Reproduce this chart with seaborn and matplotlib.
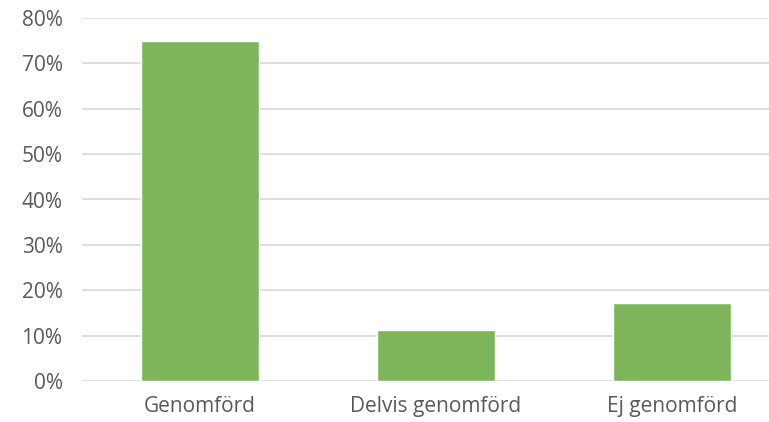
import matplotlib
matplotlib.use("Agg")
import matplotlib.pyplot as plt
import seaborn as sns
import pandas as pd
from matplotlib.ticker import PercentFormatter

categories = ["Genomförd", "Delvis genomförd", "Ej genomförd"]
values = [75, 11.3, 17.1]
yticks = [0, 10, 20, 30, 40, 50, 60, 70, 80]

df = pd.DataFrame({"status": categories, "andel": values})

sns.set_theme(style="white")
plt.rcParams["font.family"] = ["Open Sans", "DejaVu Sans"]

fig = plt.figure(figsize=(7.69, 4.22), dpi=100)
ax = fig.add_axes([82 / 769, 1 - 381 / 422, 708 / 769, 363 / 422])

sns.barplot(data=df, x="status", y="andel", color="#7DB65A", width=0.5,
            saturation=1, ax=ax, zorder=3)

ax.set_ylim(0, 80)
ax.set_xlim(-0.5, 2.5)
ax.set_yticks(yticks)
ax.yaxis.set_major_formatter(PercentFormatter(decimals=0))
ax.grid(axis="y", color="#D9D9D9", linewidth=1.2, zorder=0)
ax.set_axisbelow(True)
for s in ax.spines.values():
    s.set_visible(False)
ax.set_xlabel("")
ax.set_ylabel("")
ax.tick_params(axis="both", length=0, labelsize=15, labelcolor="#595959")
ax.tick_params(axis="y", pad=14)
ax.tick_params(axis="x", pad=11)

fig.savefig("out.png", dpi=100)
